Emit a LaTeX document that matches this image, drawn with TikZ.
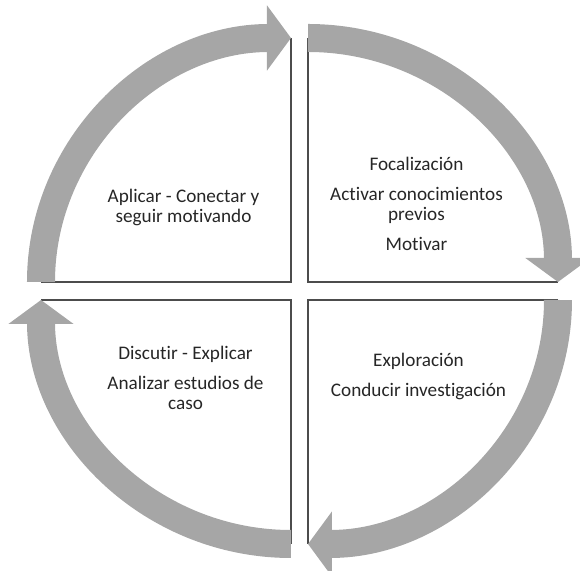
\documentclass[tikz,border=0pt]{standalone}
\usepackage{fontspec}
\setmainfont{Carlito}[Ligatures=NoCommon]
\usetikzlibrary{arrows.meta}
\tikzset{
  band/.style={draw=gray!70, line width=14pt, -{Triangle[length=12pt, width=32pt]}},
  rim/.style={draw=black!70, line width=0.8pt},
  lbl/.style={align=center, text=black!85, font=\fontsize{9.6}{10}\selectfont}
}
\begin{document}
\begin{tikzpicture}[x=0.5pt, y=0.5pt]
    \useasboundingbox (-299.5,-280) rectangle (280.5,291);
    % corners of the four quadrants
    \coordinate (tl) at (-8.5,9);
    \coordinate (tr) at (8.5,9);
    \coordinate (br) at (8.5,-9);
    \coordinate (bl) at (-8.5,-9);
    % ends of the arcs
    \coordinate (tlW) at (-258.5,9);
    \coordinate (tlN) at (-8.5,253);
    \coordinate (trN) at (8.5,253);
    \coordinate (trE) at (258.5,9);
    \coordinate (brE) at (258.5,-9);
    \coordinate (brS) at (8.5,-253);
    \coordinate (blS) at (-8.5,-253);
    \coordinate (blW) at (-258.5,-9);
    % quadrant borders
    \draw[rim] (tlN) -- (tl) -- (tlW);
    \draw[rim] (trN) -- (tr) -- (trE);
    \draw[rim] (brE) -- (br) -- (brS);
    \draw[rim] (blS) -- (bl) -- (blW);
    % cycle arrows
    \draw[band] (tlW) arc[start angle=180, end angle=90, x radius=250, y radius=244];
    \draw[band] (trN) arc[start angle=90, end angle=0, x radius=250, y radius=244];
    \draw[band] (brE) arc[start angle=0, end angle=-90, x radius=250, y radius=244];
    \draw[band] (blS) arc[start angle=270, end angle=180, x radius=250, y radius=244];
    % texts
    \node[lbl] (aplicar) at (-116,84) {Aplicar - Conectar y\\seguir motivando};
    \node[lbl] (focal) at (117,87) {Focalización\\[5pt]Activar conocimientos\\previos\\[5pt]Motivar};
    \node[lbl] (explor) at (119,-85) {Exploración\\[5pt]Conducir investigación};
    \node[lbl] (discut) at (-114,-87) {Discutir - Explicar\\[5pt]Analizar estudios de\\caso};
\end{tikzpicture}
\end{document}
